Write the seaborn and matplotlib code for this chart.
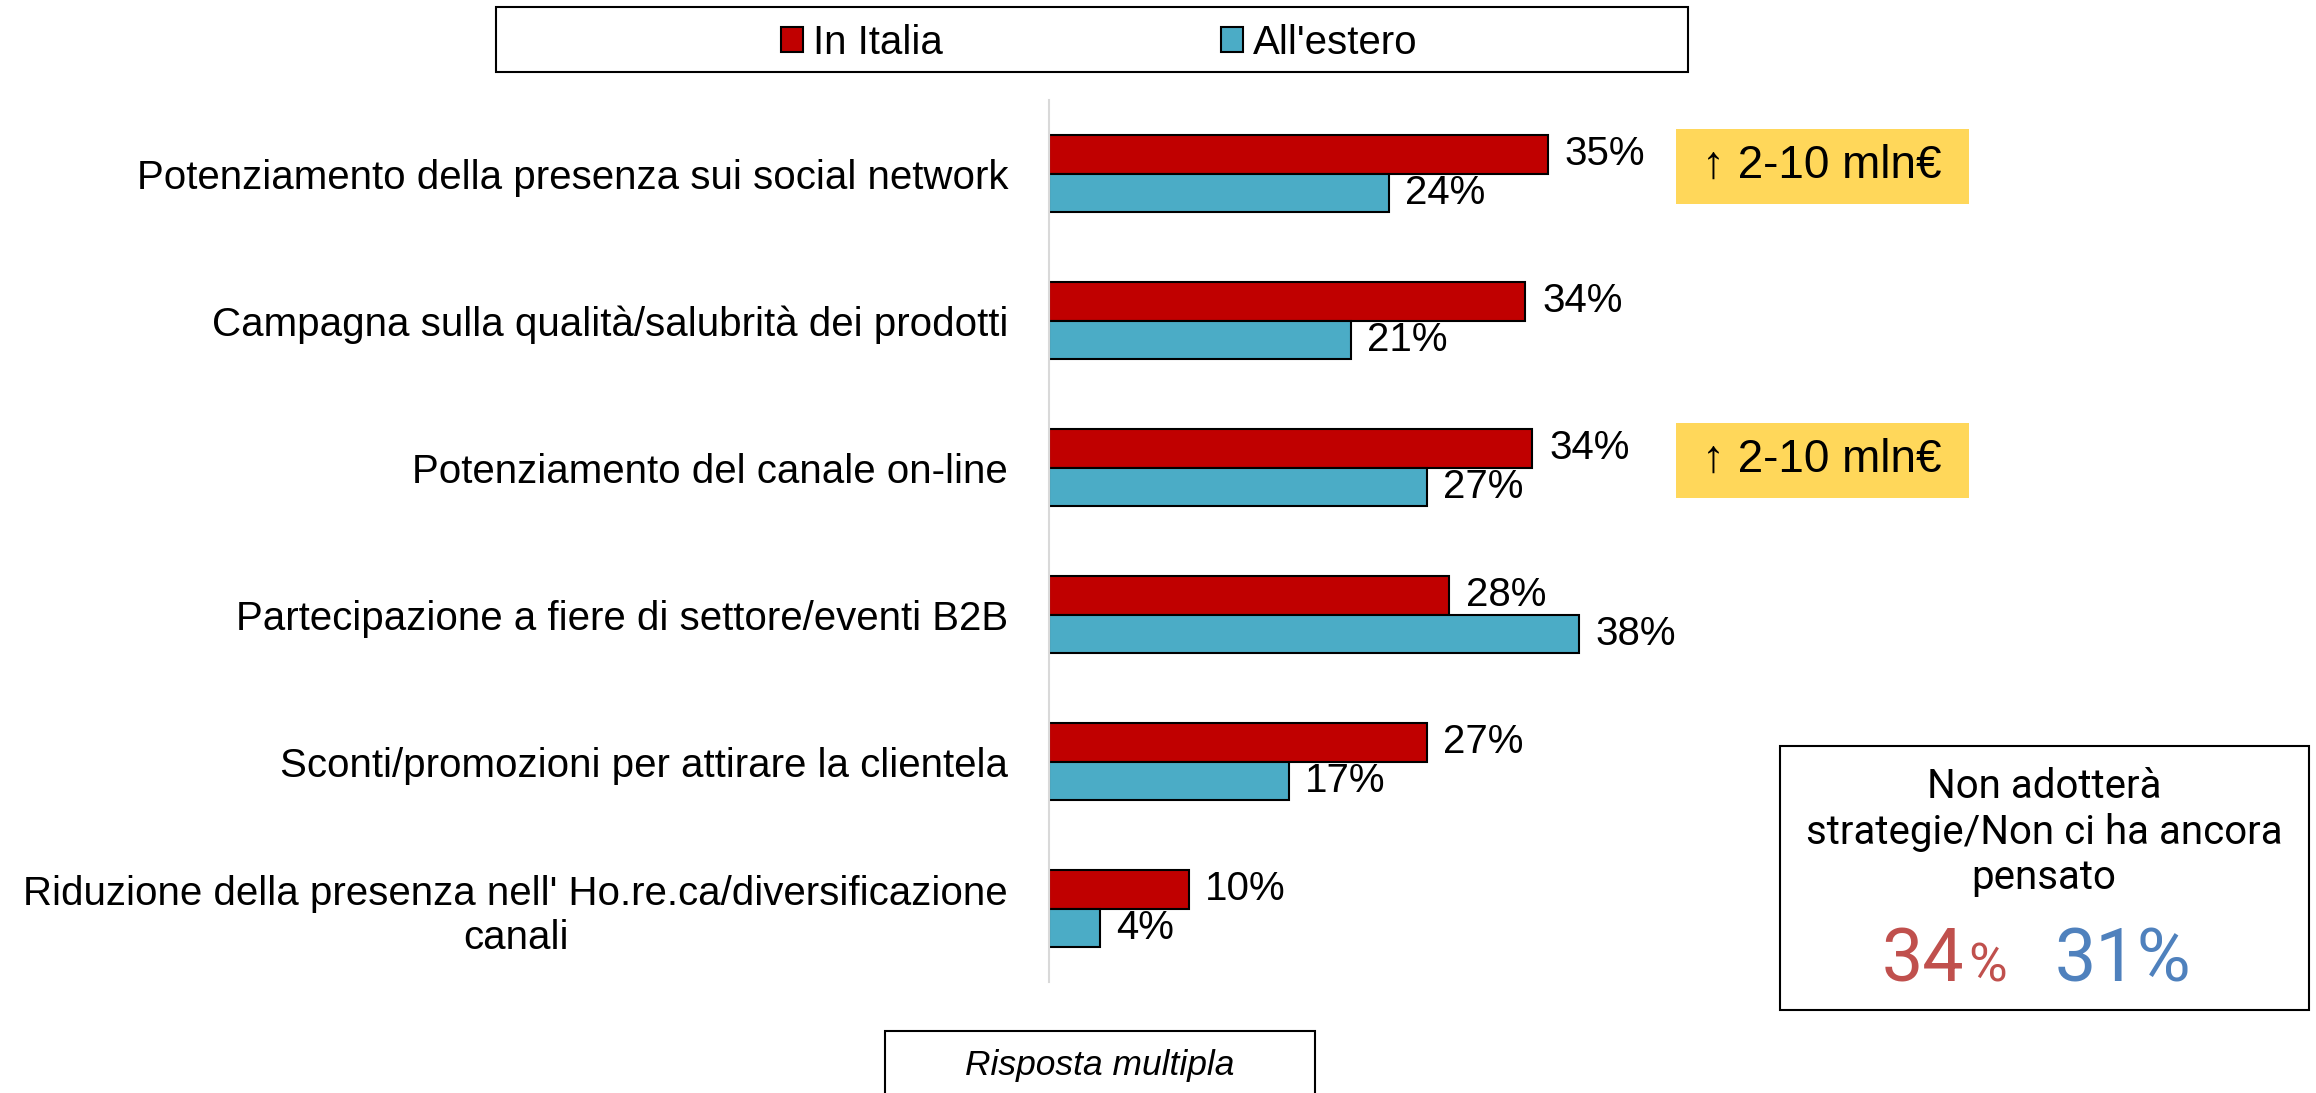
import pandas as pd
import numpy as np
import seaborn as sns
import matplotlib.pyplot as plt
import matplotlib.transforms as mtransforms
from matplotlib.patches import Rectangle

categorie = [
    "Potenziamento della presenza sui social network",
    "Campagna sulla qualità/salubrità dei prodotti",
    "Potenziamento del canale on-line",
    "Partecipazione a fiere di settore/eventi B2B",
    "Sconti/promozioni per attirare la clientela",
    "Riduzione della presenza nell' Ho.re.ca/diversificazione\ncanali",
]
italia = [35.4, 33.8, 34.3, 28.4, 26.8, 9.9]
estero = [24.1, 21.4, 26.8, 37.6, 17.0, 3.6]
serie = ["In Italia", "All'estero"]
colori = ["#C00000", "#4BACC6"]

# righe con il riquadro giallo
evidenziati = [0, 2]
testo_evidenza = "↑ 2-10 mln€"

box_titolo = "Non adotterà\nstrategie/Non ci ha ancora\npensato"
nessuna_strategia = [34, 31]
colori_box = ["#C0504D", "#4F81BD"]
nota = "Risposta multipla"

df = pd.DataFrame({
    "categoria": categorie * 2,
    "valore": italia + estero,
    "serie": [serie[0]] * len(categorie) + [serie[1]] * len(categorie),
})

sns.set_style("white")
plt.rcParams['font.family'] = ['Liberation Sans', 'DejaVu Sans']
plt.rcParams['text.color'] = 'black'
plt.rcParams['ytick.color'] = 'black'

W, H = 2316, 1093
fig = plt.figure(figsize=(W / 100, H / 100), dpi=100)
ax = fig.add_axes([1049 / W, 0.1015, 0.30, 0.807])

sns.barplot(data=df, y="categoria", x="valore", hue="serie", order=categorie,
            hue_order=serie, palette=colori, saturation=1, orient="h",
            width=0.525, edgecolor="black", linewidth=1.5, ax=ax)

for cont in ax.containers:
    ax.bar_label(cont, labels=[f"{v:.0f}%" for v in cont.datavalues],
                 padding=12, fontsize=29, color="black")

ax.set_xlim(0, 49.3)
ax.set_ylim(5.5, -0.5)
ax.set_xlabel("")
ax.set_ylabel("")
ax.set_xticks([])
for s in ["top", "right", "bottom"]:
    ax.spines[s].set_visible(False)
ax.spines["left"].set_color("#D9D9D9")
ax.spines["left"].set_linewidth(1.5)
ax.tick_params(axis="y", left=False, pad=26, labelsize=29, labelcolor="black")
for lab in ax.get_yticklabels():
    lab.set_multialignment("center")

# legenda in alto con cornice
handles, labels = ax.get_legend_handles_labels()
ax.legend_.remove()
fig.legend(handles, labels, loc="center", bbox_to_anchor=(0.4745, 0.961),
           ncol=2, frameon=False, fontsize=29, handlelength=0.55,
           handleheight=0.55, handletextpad=0.25, columnspacing=6.9,
           labelcolor="black")
fig.add_artist(Rectangle((496 / W, 1 - 72 / H), 1192 / W, 65 / H,
                         transform=fig.transFigure, fill=False,
                         edgecolor="black", lw=1.5))

# riquadri gialli
trans = mtransforms.blended_transform_factory(fig.transFigure, ax.transData)
for i in evidenziati:
    ax.add_patch(Rectangle((1676 / W, i - 0.05 - 0.255), 293 / W, 0.51,
                           transform=trans, facecolor="#FFD75A",
                           edgecolor="none", clip_on=False))
    ax.text(1822 / W, i - 0.05, testo_evidenza, transform=trans,
            ha="center", va="center", fontsize=33)

# riquadro a destra
fig.add_artist(Rectangle((1780 / W, 1 - 1010 / H), 529 / W, 264 / H,
                         transform=fig.transFigure, fill=False,
                         edgecolor="black", lw=1.5))
fig.text(2044 / W, 1 - 832 / H, box_titolo, ha="center", va="center",
         fontsize=29, family=["Roboto", "DejaVu Sans"], linespacing=1.2)
fig.text(1964 / W, 1 - 982 / H, f"{nessuna_strategia[0]}", ha="right",
         va="baseline", fontsize=53, color=colori_box[0],
         family=["Roboto", "DejaVu Sans"])
fig.text(1968 / W, 1 - 982 / H, "%", ha="left", va="baseline",
         fontsize=38, color=colori_box[0], family=["Roboto", "DejaVu Sans"])
fig.text(2055 / W, 1 - 982 / H, f"{nessuna_strategia[1]}%", ha="left",
         va="baseline", fontsize=53, color=colori_box[1],
         family=["Roboto", "DejaVu Sans"])

# nota in basso
fig.add_artist(Rectangle((885 / W, -0.02), 430 / W, 1 - 1031 / H + 0.02,
                         transform=fig.transFigure, fill=False,
                         edgecolor="black", lw=1.5))
fig.text(1100 / W, 1 - 1065 / H, nota, ha="center", va="center",
         fontsize=25.5, style="italic")

fig.savefig("out.png", dpi=100)
